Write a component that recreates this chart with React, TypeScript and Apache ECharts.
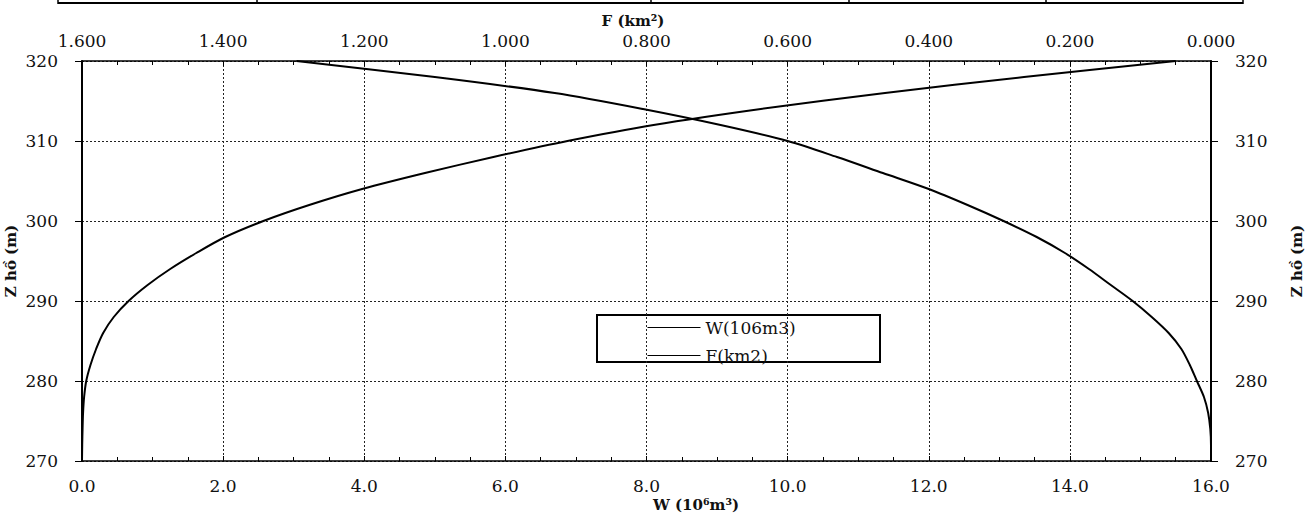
import React, { useEffect, useRef } from "react";
import * as echarts from "echarts";

// Water level (m)
const Z = [270, 272, 274, 276, 278, 280, 282, 284, 286, 288, 290, 292, 294, 296, 298, 300, 302, 304, 306, 308, 310, 312, 314, 316, 318, 320];
// Volume W (10^6 m3)
const W = [0, 0.003, 0.008, 0.015, 0.03, 0.06, 0.12, 0.2, 0.3, 0.45, 0.66, 0.93, 1.25, 1.62, 2.03, 2.57, 3.22, 3.97, 4.86, 5.83, 6.88, 8.1, 9.62, 11.38, 13.35, 15.5];
// Area F (km2)
const F = [0, 0, 0.001, 0.004, 0.01, 0.02, 0.03, 0.042, 0.06, 0.084, 0.111, 0.142, 0.173, 0.207, 0.247, 0.294, 0.345, 0.4, 0.465, 0.53, 0.6, 0.695, 0.805, 0.93, 1.1, 1.296];

const W_TICKS = { min: 0, max: 16, interval: 2 };
const F_TICKS = { min: 0, max: 1.6, interval: 0.2 };
const Z_TICKS = { min: 270, max: 320, interval: 10 };

const SERIES_NAMES = ["W(106m3)", "F(km2)"];
const Y_NAME = "Z hồ (m)";
const TOP_TITLE = "F (km²)";
const BOTTOM_TITLE = "W (10⁶m³)";

const FONT = "DejaVu Serif";

export default function App() {
  const ref = useRef<HTMLDivElement>(null);
  useEffect(() => {
    if (!ref.current) return;
    const chart = echarts.init(ref.current, undefined, { renderer: "svg" });
    const labelStyle = { color: "#111", fontFamily: FONT, fontSize: 17 };
    const dashed = { show: true, lineStyle: { color: "#222", width: 1, type: [2, 2] as any } };
    const yAxisCommon = (pos: "left" | "right") => ({
      type: "value" as const,
      position: pos,
      ...Z_TICKS,
      name: Y_NAME,
      nameLocation: "middle" as const,
      nameRotate: 90,
      nameMoveOverlap: false,
      nameGap: pos === "left" ? 64 : 78,
      nameTextStyle: { fontFamily: FONT, fontWeight: "bold" as const, fontSize: 15, color: "#111" },
      axisLine: { show: true, lineStyle: { color: "#000", width: 2 } },
      axisTick: { show: true, inside: false, length: 7, lineStyle: { color: "#000" } },
      axisLabel: { ...labelStyle, margin: 24 },
      splitLine: pos === "left" ? dashed : { show: false },
    });
    chart.setOption({
      animation: false,
      backgroundColor: "#fff",
      grid: { left: 82, right: 96, top: 61, bottom: 54, containLabel: false, outerBoundsMode: "none" },
      xAxis: [
        {
          type: "value",
          position: "bottom",
          ...W_TICKS,
          axisLine: { show: true, onZero: false, lineStyle: { color: "#000", width: 1.5 } },
          axisTick: { show: true, inside: true, length: 5, lineStyle: { color: "#000" } },
          minorTick: { show: true, splitNumber: 4, length: 4, lineStyle: { color: "#000" } },
          axisLabel: { ...labelStyle, margin: 16, formatter: (v: number) => v.toFixed(1) },
          splitLine: dashed,
        },
        {
          type: "value",
          position: "top",
          inverse: true,
          ...F_TICKS,
          axisLine: { show: true, onZero: false, lineStyle: { color: "#000", width: 1.5 } },
          axisTick: { show: true, inside: true, length: 5, lineStyle: { color: "#000" } },
          minorTick: { show: true, splitNumber: 4, length: 4, lineStyle: { color: "#000" } },
          axisLabel: { ...labelStyle, margin: 12, formatter: (v: number) => v.toFixed(3) },
          splitLine: { show: false },
        },
      ],
      yAxis: [yAxisCommon("left"), yAxisCommon("right")],
      legend: {
        show: true,
        orient: "vertical",
        left: 647,
        top: 319,
        padding: 0,
        itemWidth: 53,
        itemHeight: 14,
        itemGap: 11,
        itemStyle: { opacity: 0 },
        lineStyle: { width: 1, color: "#000", opacity: 1 },
        textStyle: { fontFamily: FONT, fontSize: 17, color: "#111" },
        data: SERIES_NAMES,
      },
      series: [
        {
          name: SERIES_NAMES[0],
          type: "line",
          xAxisIndex: 0,
          yAxisIndex: 0,
          symbol: "none",
          smooth: 0.3,
          lineStyle: { color: "#000", width: 2 },
          itemStyle: { color: "#000" },
          data: Z.map((z, i) => [W[i], z]),
        },
        {
          name: SERIES_NAMES[1],
          type: "line",
          xAxisIndex: 1,
          yAxisIndex: 0,
          symbol: "none",
          smooth: 0.3,
          lineStyle: { color: "#000", width: 2 },
          itemStyle: { color: "#000" },
          data: Z.map((z, i) => [F[i], z]),
        },
      ],
      graphic: [
        {
          type: "rect",
          shape: { x: 597, y: 315, width: 283, height: 47 },
          style: { fill: "none", stroke: "#000", lineWidth: 2 },
          silent: true,
        },
        {
          type: "text",
          x: 633,
          y: 21,
          style: { text: TOP_TITLE, fontFamily: FONT, fontWeight: "bold", fontSize: 15, fill: "#111", align: "center", verticalAlign: "middle" },
        },
        {
          type: "text",
          x: 696,
          y: 505,
          style: { text: BOTTOM_TITLE, fontFamily: FONT, fontWeight: "bold", fontSize: 15, fill: "#111", align: "center", verticalAlign: "middle" },
        },
        { type: "line", shape: { x1: 58, y1: 3, x2: 1243, y2: 3 }, style: { stroke: "#000", lineWidth: 2 } },
        ...[58, 257, 651, 849, 1046, 1243].map((x) => ({
          type: "line",
          shape: { x1: x, y1: 0, x2: x, y2: 4 },
          style: { stroke: "#000", lineWidth: 1.5 },
        })),
      ],
    });
    return () => chart.dispose();
  }, []);
  return (
    <div
      ref={ref}
      style={{ position: "fixed", left: 0, top: 0, width: 1307, height: 515, background: "#fff" }}
    />
  );
}
